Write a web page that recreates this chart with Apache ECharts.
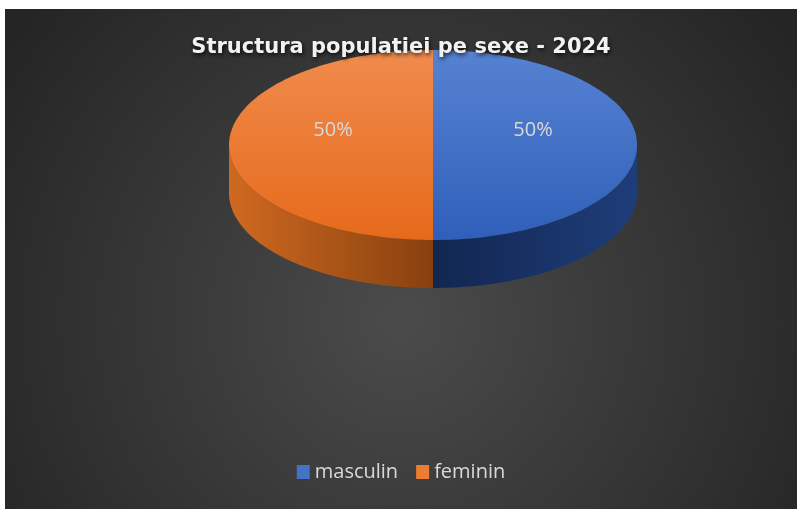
<!DOCTYPE html>
<html style="height: 100%">
<head>
<meta charset="utf-8">
<script src="https://cdn.jsdelivr.net/npm/echarts@6/dist/echarts.min.js"></script>
</head>
<body style="height: 100%; margin: 0; background: #fff">
<div id="container" style="position: absolute; left: 5px; top: 9px; width: 792px; height: 500px"></div>
<script>
var categories = ['masculin', 'feminin'];
var values = [50, 50];
var titleText = 'Structura populatiei pe sexe - 2024';

var topColors = [['#5682d2', '#2f5fb9'], ['#f08b4d', '#e76a1b']];
var sideColors = [['#122650', '#1e3e7a'], ['#cf6920', '#88410f']];
var flatColors = ['#4472c4', '#ed7d31'];

var myChart = echarts.init(document.getElementById('container'));

var total = values.reduce(function (a, b) { return a + b; }, 0);

function makeRender(idx) {
    return function (params, api) {
        var cx = 428, cy = 136, rx = 204, ry = 95, depth = 48;
        var start = 0;
        for (var k = 0; k < idx; k++) start += values[k];
        var v = api.value(0);
        var a0 = start / total * Math.PI * 2;
        var a1 = (start + v) / total * Math.PI * 2;
        function pt(t, dy) {
            return [cx + rx * Math.sin(t), cy - ry * Math.cos(t) + (dy || 0)];
        }
        var children = [];
        // side wall (front half only)
        var s0 = Math.max(a0, Math.PI / 2), s1 = Math.min(a1, Math.PI * 1.5);
        if (s1 > s0) {
            var side = [], n = 60, j;
            for (j = 0; j <= n; j++) side.push(pt(s0 + (s1 - s0) * j / n));
            for (j = n; j >= 0; j--) side.push(pt(s0 + (s1 - s0) * j / n, depth));
            children.push({
                type: 'polygon',
                z2: 1,
                shape: { points: side },
                style: {
                    fill: new echarts.graphic.LinearGradient(0, 0, 1, 0, [
                        { offset: 0, color: sideColors[idx][0] },
                        { offset: 1, color: sideColors[idx][1] }
                    ])
                }
            });
        }
        // top face
        var top = [[cx, cy]];
        for (var i = 0; i <= 120; i++) top.push(pt(a0 + (a1 - a0) * i / 120));
        children.push({
            type: 'polygon',
            z2: 10,
            shape: { points: top },
            style: {
                fill: new echarts.graphic.LinearGradient(0, 0, 0, 1, [
                    { offset: 0, color: topColors[idx][0] },
                    { offset: 1, color: topColors[idx][1] }
                ])
            }
        });
        var mid = (a0 + a1) / 2;
        var lp = [cx + rx * 0.49 * Math.sin(mid), cy - ry * 0.49 * Math.cos(mid) - 15];
        children.push({
            type: 'text',
            z2: 20,
            x: lp[0], y: lp[1],
            style: {
                text: Math.round(v / total * 100) + '%',
                fill: '#d9d9d9',
                font: '20px "Open Sans"',
                align: 'center',
                verticalAlign: 'middle'
            }
        });
        return { type: 'group', children: children };
    };
}

var series = categories.map(function (name, i) {
    return {
        name: name,
        type: 'custom',
        coordinateSystem: 'none',
        itemStyle: { color: flatColors[i] },
        renderItem: makeRender(i),
        data: [[values[i]]],
        silent: true
    };
});

var option = {
    backgroundColor: {
        type: 'radial', x: 0.5, y: 0.62, r: 0.95,
        colorStops: [
            { offset: 0, color: '#4b4b4b' },
            { offset: 1, color: '#252525' }
        ]
    },
    animation: false,
    title: {
        text: titleText,
        left: 'center',
        top: 23,
        textStyle: {
            color: '#f2f2f2',
            fontFamily: 'DejaVu Sans',
            fontWeight: 'bold',
            fontSize: 21,
            textShadowColor: 'rgba(0,0,0,0.8)',
            textShadowBlur: 4,
            textShadowOffsetX: 1,
            textShadowOffsetY: 2
        }
    },
    legend: {
        data: categories,
        left: 'center',
        top: 448,
        selectedMode: false,
        icon: 'rect',
        itemWidth: 13,
        itemHeight: 14,
        itemGap: 18,
        textStyle: { color: '#d9d9d9', fontSize: 20, fontFamily: 'Open Sans' }
    },
    series: series
};

myChart.setOption(option);
</script>
</body>
</html>
